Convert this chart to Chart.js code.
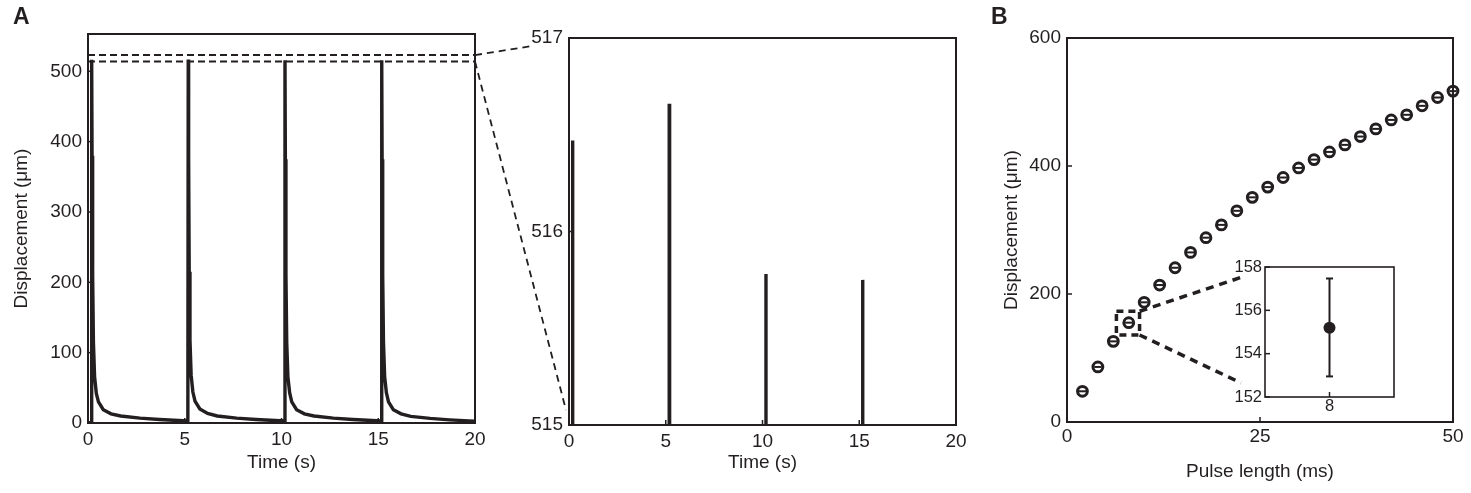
<!DOCTYPE html>
<html>
<head>
<meta charset="utf-8">
<script src="https://cdn.jsdelivr.net/npm/chart.js@4.4.1/dist/chart.umd.min.js"></script>
<style>
  body { margin: 0; background: #fff; }
  #wrap { position: relative; width: 1471px; height: 493px; }
  #wrap canvas { position: absolute; left: 0; top: 0; }
  .panel { position: absolute; font: bold 23px 'Liberation Sans', Arial, sans-serif; line-height: 1; color: #231f20; }
</style>
</head>
<body>
<div id="wrap">
  <canvas id="trace" width="1471" height="493"></canvas>
  <canvas id="zoom" width="1471" height="493"></canvas>
  <canvas id="pulse" width="1471" height="493"></canvas>
  <canvas id="inset" width="1471" height="493"></canvas>
  <canvas id="links" width="1471" height="493"></canvas>
  <div class="panel" style="left:13px;top:5px">A</div>
  <div class="panel" style="left:991px;top:5px">B</div>
</div>
<script>
// displacement trace, four pulses 5 s apart
const traceTime = [
  0, 0.17, 0.19, 0.21, 0.24, 0.28, 0.34, 0.43, 0.54, 0.79, 1.19, 1.69, 2.69, 3.69, 4.69,
  5.16, 5.18, 5.20, 5.23, 5.27, 5.33, 5.42, 5.53, 5.78, 6.18, 6.68, 7.68, 8.68, 9.68,
  10.16, 10.18, 10.20, 10.23, 10.27, 10.33, 10.42, 10.53, 10.78, 11.18, 11.68, 12.68, 13.68, 14.68,
  15.16, 15.18, 15.20, 15.23, 15.27, 15.33, 15.42, 15.53, 15.78, 16.18, 16.68, 17.68, 18.68, 19.68, 20
];
const traceDisp = [
  0.5, 0.5, 516.47, 380, 210, 115, 66, 42, 30, 19, 13, 10, 7, 5, 3.5,
  3, 516.66, 380, 215, 118, 68, 44, 31, 20, 13.5, 10, 7, 5, 3.5,
  3, 515.78, 375, 210, 115, 66, 43, 30, 19, 13, 10, 7, 5, 3.5,
  3, 515.75, 375, 210, 115, 66, 43, 30, 19, 13, 9.5, 6.5, 4.5, 3, 2.5
];
const zoomBand = [514, 523];          // dashed band drawn on the full trace
const timeTicks = [0, 20, 5];         // min, max, step
const traceYRange = [0, 553, 100];
const zoomYRange = [515, 517, 1];

// panel B
const pulseLen = [2, 4, 6, 8, 10, 12, 14, 16, 18, 20, 22, 24, 26, 28, 30, 32, 34, 36, 38, 40, 42, 44, 46, 48, 50];
const pulseDisp = [48, 86, 126, 155.2, 187, 214, 241, 265, 288, 308, 330, 351, 367, 382, 397, 410, 422, 433, 446, 458, 472, 480, 494, 507, 517];
const pulseXRange = [0, 50, 25];
const pulseYRange = [0, 600, 200];
const insetX = [8];
const insetMean = [155.2];
const insetLow = [152.95];
const insetHigh = [157.47];
const insetXRange = [7, 9];
const insetYRange = [152, 158, 2];
const insetBox = { x: [6.4, 9.4], y: [136, 173] };

const INK = '#231f20';
const FONT = "'Liberation Sans', Arial, sans-serif";

const boxPlugin = {
  id: 'box',
  afterDraw(chart, args, opts) {
    const { ctx, chartArea: a, scales } = chart;
    ctx.save();
    ctx.strokeStyle = INK;
    ctx.lineWidth = opts.width || 2;
    ctx.strokeRect(a.left, a.top, a.right - a.left, a.bottom - a.top);
    // inward tick marks
    ctx.lineWidth = 1.5;
    scales.x.ticks.forEach(t => {
      const px = scales.x.getPixelForValue(t.value);
      ctx.beginPath(); ctx.moveTo(px, a.bottom); ctx.lineTo(px, a.bottom - 5); ctx.stroke();
    });
    scales.y.ticks.forEach(t => {
      const py = scales.y.getPixelForValue(t.value);
      ctx.beginPath(); ctx.moveTo(a.left, py); ctx.lineTo(a.left + 5, py); ctx.stroke();
    });
    if (opts.band) {
      ctx.setLineDash([7, 4]);
      ctx.lineWidth = 2;
      opts.band.forEach(v => {
        const py = scales.y.getPixelForValue(v);
        ctx.beginPath(); ctx.moveTo(a.left, py); ctx.lineTo(a.right, py); ctx.stroke();
      });
    }
    if (opts.rect) {
      const x1 = scales.x.getPixelForValue(opts.rect.x[0]), x2 = scales.x.getPixelForValue(opts.rect.x[1]);
      const y1 = scales.y.getPixelForValue(opts.rect.y[1]), y2 = scales.y.getPixelForValue(opts.rect.y[0]);
      ctx.setLineDash([7, 5]);
      ctx.lineWidth = 3.5;
      ctx.strokeRect(x1, y1, x2 - x1, y2 - y1);
    }
    ctx.restore();
  }
};

function font(size) { return { family: FONT, size: size }; }

function xAxis(range, height, opts) {
  return Object.assign({
    type: 'linear', min: range[0], max: range[1],
    ticks: { stepSize: range[2], padding: 5, color: INK, font: font(19), maxRotation: 0 },
    grid: { display: false, drawTicks: false }, border: { display: false },
    afterFit(s) { s.height = height; }
  }, opts);
}

function yAxis(range, width, opts) {
  return Object.assign({
    type: 'linear', min: range[0], max: range[1],
    ticks: { stepSize: range[2], includeBounds: false, padding: 6, color: INK, font: font(19) },
    grid: { display: false, drawTicks: false }, border: { display: false },
    afterFit(s) { s.width = width; }
  }, opts);
}

function baseOptions(padding, scales, box) {
  return {
    responsive: false, animation: false, events: [], devicePixelRatio: 1,
    layout: { padding: padding },
    plugins: { legend: { display: false }, tooltip: { enabled: false }, box: box || {} },
    scales: scales
  };
}

const tracePoints = traceTime.map((t, i) => ({ x: t, y: traceDisp[i] }));

const traceChart = new Chart(document.getElementById('trace'), {
  type: 'scatter',
  data: { datasets: [{ data: tracePoints, showLine: true, borderColor: INK, borderWidth: 3.4, pointRadius: 0 }] },
  options: baseOptions({ left: 0, top: 34, right: 996, bottom: 0 }, {
    x: xAxis(timeTicks, 70, { title: { display: true, text: 'Time (s)', color: INK, font: font(19), padding: { top: 0, bottom: 18.6 } } }),
    y: yAxis(traceYRange, 88, { title: { display: true, text: 'Displacement (μm)', color: INK, font: font(19), padding: { top: 10.3, bottom: 0 } } })
  }, { band: zoomBand }),
  plugins: [boxPlugin]
});

const zoomChart = new Chart(document.getElementById('zoom'), {
  type: 'scatter',
  data: { datasets: [{ data: tracePoints, showLine: true, borderColor: INK, borderWidth: 3.4, pointRadius: 0 }] },
  options: baseOptions({ left: 509, top: 38, right: 515, bottom: 0 }, {
    x: xAxis(timeTicks, 68, { title: { display: true, text: 'Time (s)', color: INK, font: font(19), padding: { top: 0, bottom: 18.6 } } }),
    y: yAxis(zoomYRange, 60)
  }),
  plugins: [boxPlugin]
});

const pulsePoints = pulseLen.map((x, i) => ({ x: x, y: pulseDisp[i] }));

const pulseChart = new Chart(document.getElementById('pulse'), {
  type: 'scatter',
  data: {
    datasets: [
      { data: pulsePoints, pointStyle: 'line', pointRadius: 3.6, borderWidth: 2, borderColor: INK, clip: false },
      { data: pulsePoints, pointStyle: 'circle', pointRadius: 4.9, borderWidth: 3, borderColor: INK, backgroundColor: 'rgba(255,255,255,0)', clip: false }
    ]
  },
  options: baseOptions({ left: 990, top: 38, right: 18, bottom: 0 }, {
    x: xAxis(pulseXRange, 71, {
      ticks: { stepSize: 25, padding: 3, color: INK, font: font(19), maxRotation: 0 },
      title: { display: true, text: 'Pulse length (ms)', color: INK, font: font(19), padding: { top: 0, bottom: 9.9 } }
    }),
    y: yAxis(pulseYRange, 77, { title: { display: true, text: 'Displacement (μm)', color: INK, font: font(19), padding: { top: 10.3, bottom: 0 } } })
  }, { rect: insetBox }),
  plugins: [boxPlugin]
});

const insetChart = new Chart(document.getElementById('inset'), {
  type: 'scatter',
  data: {
    datasets: [
      { data: insetX.map((x, i) => ({ x: x, y: insetMean[i] })), pointRadius: 6, backgroundColor: INK, borderWidth: 0 },
      { data: [{ x: insetX[0], y: insetLow[0] }, { x: insetX[0], y: insetHigh[0] }], showLine: true,
        borderColor: INK, borderWidth: 2, pointStyle: 'line', pointRadius: 3.5, pointBorderWidth: 2 }
    ]
  },
  options: baseOptions({ left: 1225, top: 267, right: 77, bottom: 66 }, {
    x: xAxis(insetXRange, 30, {
      ticks: { padding: 0, color: INK, font: font(16.5), maxRotation: 0 },
      afterBuildTicks(s) { s.ticks = insetX.map(v => ({ value: v })); }
    }),
    y: yAxis(insetYRange, 40, { ticks: { stepSize: 2, includeBounds: false, padding: 3, color: INK, font: font(16.5) } })
  }, { width: 1.6 }),
  plugins: [boxPlugin]
});

// dashed connectors between panels
const lctx = document.getElementById('links').getContext('2d');
function connector(x1, y1, x2, y2, width, dash) {
  lctx.save();
  lctx.strokeStyle = INK;
  lctx.lineWidth = width;
  lctx.setLineDash(dash);
  lctx.beginPath(); lctx.moveTo(x1, y1); lctx.lineTo(x2, y2); lctx.stroke();
  lctx.restore();
}
const ta = traceChart.scales, za = zoomChart.scales, zArea = zoomChart.chartArea;
connector(ta.x.getPixelForValue(timeTicks[1]), ta.y.getPixelForValue(zoomBand[1]),
          zArea.left - 37, za.y.getPixelForValue(zoomYRange[1]) + 8, 1.8, [7, 5]);
connector(ta.x.getPixelForValue(timeTicks[1]), ta.y.getPixelForValue(zoomBand[0]),
          zArea.left - 3, za.y.getPixelForValue(zoomYRange[0]) - 15, 1.8, [7, 5]);

const pa = pulseChart.scales, ia = insetChart.scales, iArea = insetChart.chartArea;
connector(pa.x.getPixelForValue(insetBox.x[1]), pa.y.getPixelForValue(insetBox.y[1]),
          iArea.left - 22, ia.y.getPixelForValue(157.55), 3.5, [8, 6]);
connector(pa.x.getPixelForValue(insetBox.x[1]), pa.y.getPixelForValue(insetBox.y[0]),
          iArea.left - 24, ia.y.getPixelForValue(152.65), 3.5, [8, 6]);
</script>
</body>
</html>
